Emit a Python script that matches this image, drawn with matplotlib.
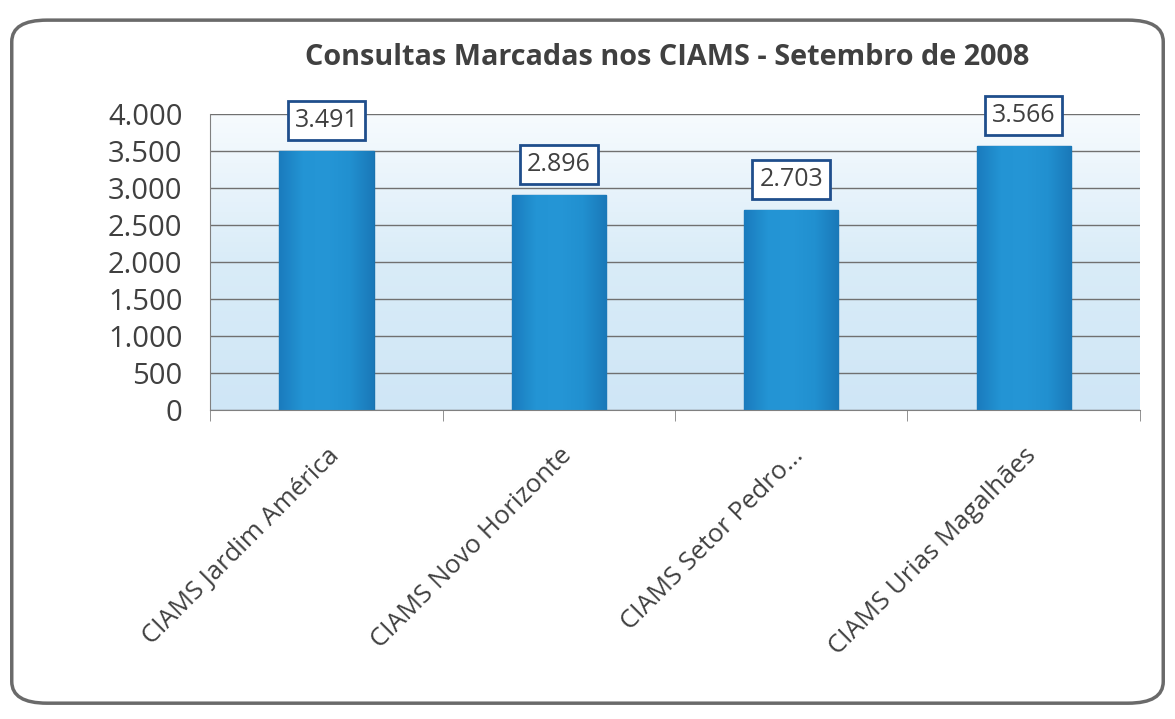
import numpy as np
import matplotlib
matplotlib.use("Agg")
import matplotlib.pyplot as plt
from matplotlib.patches import FancyBboxPatch
from matplotlib.ticker import FuncFormatter, FixedLocator
from matplotlib.colors import LinearSegmentedColormap

categories = ["CIAMS Jardim América", "CIAMS Novo Horizonte", "CIAMS Setor Pedro...", "CIAMS Urias Magalhães"]
values = [3491, 2896, 2703, 3566]
value_labels = ["3.491", "2.896", "2.703", "3.566"]
yticks = [0, 500, 1000, 1500, 2000, 2500, 3000, 3500, 4000]
title = "Consultas Marcadas nos CIAMS - Setembro de 2008"

plt.rcParams['font.family'] = ['Open Sans', 'DejaVu Sans']

fig = plt.figure(figsize=(11.75, 7.19), dpi=100)
fig.patch.set_facecolor('white')

# rounded outer border
border = FancyBboxPatch((0.010, 0.022), 0.980, 0.950, boxstyle="round,pad=0,rounding_size=0.03",
                        transform=fig.transFigure, facecolor='none', edgecolor='#6a6a6a',
                        linewidth=2.5, zorder=-1)
fig.patches.append(border)

ax = fig.add_axes([0.179, 0.430, 0.791, 0.412])
n = len(categories)

# gradient background of plot area (white at top, light blue lower)
grad = np.linspace(0, 1, 256).reshape(-1, 1)
bgcmap = LinearSegmentedColormap.from_list('bg', ['#cfe6f6', '#d9ecf8', '#f7fbfe'])
ax.imshow(grad, cmap=bgcmap, aspect='auto', extent=[-0.5, n - 0.5, 0, 4000],
          zorder=0, origin='lower')

ax.yaxis.set_major_locator(FixedLocator(yticks))
ax.grid(axis='y', color='#707070', linewidth=1.0, zorder=1)
ax.set_axisbelow(True)

x = np.arange(n)
bars = ax.bar(x, values, width=0.405, color='#2190d0', edgecolor='#1a72ae', linewidth=1.0, zorder=2)

barcmap = LinearSegmentedColormap.from_list('bar', ['#1a7bbd', '#2394d4', '#2596d6', '#2190d0', '#1a78b8'])
hgrad = np.linspace(0, 1, 256).reshape(1, -1)
for b in bars:
    x0, w, h = b.get_x(), b.get_width(), b.get_height()
    im = ax.imshow(hgrad, cmap=barcmap, aspect='auto', extent=[x0, x0 + w, 0, h], zorder=2.5)
    im.set_clip_path(b)
ax.set_xlim(-0.5, n - 0.5)
ax.set_ylim(0, 4000)

for xi, v, lab in zip(x, values, value_labels):
    ax.annotate(lab, (xi, v), xytext=(0, 13), textcoords='offset points', ha='center', va='bottom',
                fontsize=18, color='#404040', zorder=5,
                bbox=dict(boxstyle='square,pad=0.28', facecolor='white', edgecolor='#1f4e8c', linewidth=2))

ax.yaxis.set_major_formatter(FuncFormatter(lambda v, p: f"{int(v):,}".replace(",", ".")))
ax.tick_params(axis='y', labelsize=21, labelcolor='#404040', length=0, pad=20)
ax.set_xticks(x)
ax.set_xticklabels(categories, rotation=45, ha='right', rotation_mode='anchor', fontsize=18.5,
                   color='#404040')
ax.xaxis.set_minor_locator(FixedLocator(np.arange(-0.5, n, 1)))
ax.tick_params(axis='x', which='major', length=0, pad=24)
ax.tick_params(axis='x', which='minor', length=8, color='#808080', direction='out')
for s in ['top', 'right']:
    ax.spines[s].set_visible(False)
ax.spines['left'].set_color('#808080')
ax.spines['bottom'].set_color('#808080')

fig.text(0.568, 0.92, title, ha='center', va='center', fontsize=20.8, fontweight='bold', color='#404040')

fig.savefig('out.png', dpi=100, facecolor='white')
